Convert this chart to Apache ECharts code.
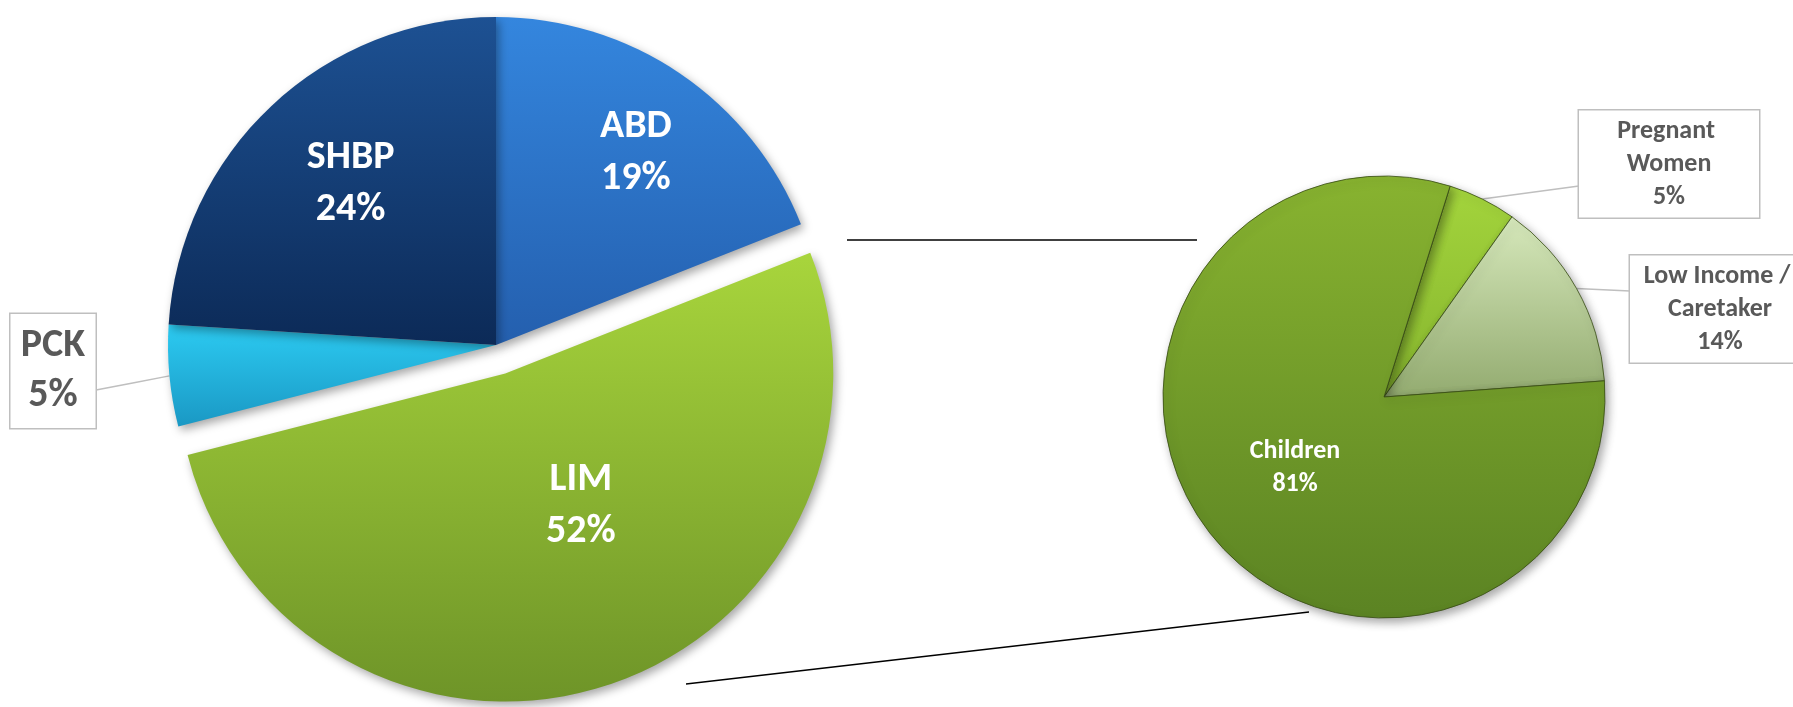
<!DOCTYPE html>
<html>
<head>
<meta charset="utf-8">
<script src="https://cdn.jsdelivr.net/npm/echarts@6/dist/echarts.min.js"></script>
<style>
html,body{margin:0;padding:0;background:#fff;}
#chart{width:1793px;height:707px;}
</style>
</head>
<body>
<div id="chart"></div>
<script>
// ---------- DATA ----------
const leftNames  = ['ABD', 'LIM', 'PCK', 'SHBP'];
const leftValues = [19, 52, 5, 24];
const rightNames  = ['Pregnant Women', 'Low Income / Caretaker', 'Children'];
const rightValues = [5, 14, 81];

// ---------- LAYOUT / STYLE ----------
const FONT = 'Carlito, Lato, "Open Sans", sans-serif';
const L = { cx: 496, cy: 345, r: 328, start: 90, explode: 30 };
const R = { cx: 1384, cy: 397, r: 221, start: 72.6 };

const leftColors = {
  'ABD':  ['#3486de', '#245fae'],
  'LIM':  ['#a8d53c', '#6e9428'],
  'PCK':  ['#2ccbf2', '#1a98c4'],
  'SHBP': ['#1d5193', '#0c2a57']
};
const rightColors = {
  'Pregnant Women':         ['#a3d43c', '#86b52e'],
  'Low Income / Caretaker': ['#d6e8bb', '#93ab70'],
  'Children':               ['#88b330', '#5b8323']
};
// inside label nudges (px)
const leftInside = { 'ABD': [46, -54], 'SHBP': [-31, -39], 'LIM': [24, -26] };
// callout boxes: centre of box, and end point of the pointer
const callouts = {
  'PCK':                    { box: [53, 371],  tip: [96, 390] },
  'Pregnant Women':         { box: [1669, 164], tip: [1579, 186] },
  'Low Income / Caretaker': { box: [1720, 309], tip: [1630, 291] }
};

function grad(c) {
  return new echarts.graphic.LinearGradient(0, 0, 0, 1, [
    { offset: 0, color: c[0] }, { offset: 1, color: c[1] }
  ]);
}
function midAngle(values, idx, start) {
  const total = values.reduce((a, b) => a + b, 0);
  let acc = 0;
  for (let i = 0; i < idx; i++) acc += values[i];
  return start - (acc + values[idx] / 2) / total * 360;
}
function edgePoint(geo, values, idx) {
  const a = midAngle(values, idx, geo.start) * Math.PI / 180;
  return [geo.cx + geo.r * Math.cos(a), geo.cy - geo.r * Math.sin(a)];
}

const shadow = { shadowBlur: 10, shadowColor: 'rgba(0,0,0,0.35)', shadowOffsetX: 3, shadowOffsetY: 4 };

const insideBig = { show: true, position: 'inside', color: '#fff', fontFamily: FONT,
  fontWeight: 'bold', fontSize: 40, lineHeight: 52, formatter: '{b}\n{c}%' };
const insideSmall = { show: true, position: 'inside', color: '#fff', fontFamily: FONT,
  fontWeight: 'bold', fontSize: 26, lineHeight: 33, formatter: '{b}\n{c}%' };
const boxBig = { show: true, position: 'outside', color: '#595959', fontFamily: FONT,
  fontWeight: 'bold', fontSize: 40, lineHeight: 50, formatter: '{b}\n{c}%',
  backgroundColor: '#fff', borderColor: '#bfbfbf', borderWidth: 1.5, padding: [7, 8],
  width: 69, align: 'center' };
const boxSmall = { show: true, position: 'outside', color: '#595959', fontFamily: FONT,
  fontWeight: 'bold', fontSize: 26, lineHeight: 33, formatter: '{b}\n{c}%',
  backgroundColor: '#fff', borderColor: '#bfbfbf', borderWidth: 1.5, padding: [4, 8],
  width: 164, overflow: 'break', align: 'center' };
const lineStyle = { lineStyle: { color: '#bfbfbf', width: 1.5 } };

const leftData = leftNames.map((n, i) => ({
  name: n, value: leftValues[i], selected: n === 'LIM',
  itemStyle: Object.assign({ color: grad(leftColors[n]) }, shadow),
  label: callouts[n] ? boxBig : insideBig,
  labelLine: callouts[n] ? Object.assign({ show: true }, lineStyle) : { show: false }
}));
const rightData = rightNames.map((n, i) => ({
  name: n, value: rightValues[i],
  itemStyle: Object.assign({ color: grad(rightColors[n]), borderColor: 'rgba(55,75,20,0.8)', borderWidth: 1 }, shadow),
  label: callouts[n] ? boxSmall : insideSmall,
  labelLine: callouts[n] ? Object.assign({ show: true }, lineStyle) : { show: false }
}));

function makeLayout(names, values, geo, inside) {
  return function (p) {
    const n = names[p.dataIndex];
    const c = callouts[n];
    if (c) {
      const e = edgePoint(geo, values, p.dataIndex);
      return {
        x: c.box[0], y: c.box[1], align: 'center', verticalAlign: 'middle',
        labelLinePoints: [e, [(e[0] + c.tip[0]) / 2, (e[1] + c.tip[1]) / 2], c.tip]
      };
    }
    const d = inside[n];
    return d ? { dx: d[0], dy: d[1] } : {};
  };
}

const chart = echarts.init(document.getElementById('chart'), null, { renderer: 'canvas' });
chart.setOption({
  animation: false,
  backgroundColor: '#fff',
  graphic: [
    { type: 'line', shape: { x1: 847, y1: 240, x2: 1197, y2: 240 }, style: { stroke: '#000', lineWidth: 1.5 }, z: 10 },
    { type: 'line', shape: { x1: 686, y1: 684, x2: 1309, y2: 612 }, style: { stroke: '#000', lineWidth: 1.5 }, z: 10 }
  ],
  series: [
    {
      type: 'pie', center: [L.cx, L.cy], radius: [0, L.r], startAngle: L.start, clockwise: true,
      selectedMode: 'single', selectedOffset: L.explode, avoidLabelOverlap: false,
      emphasis: { disabled: true }, data: leftData,
      labelLayout: makeLayout(leftNames, leftValues, L, leftInside)
    },
    {
      type: 'pie', center: [R.cx, R.cy], radius: [0, R.r], startAngle: R.start, clockwise: true,
      avoidLabelOverlap: false, emphasis: { disabled: true }, data: rightData,
      labelLayout: makeLayout(rightNames, rightValues, R, {})
    }
  ]
});
</script>
</body>
</html>
